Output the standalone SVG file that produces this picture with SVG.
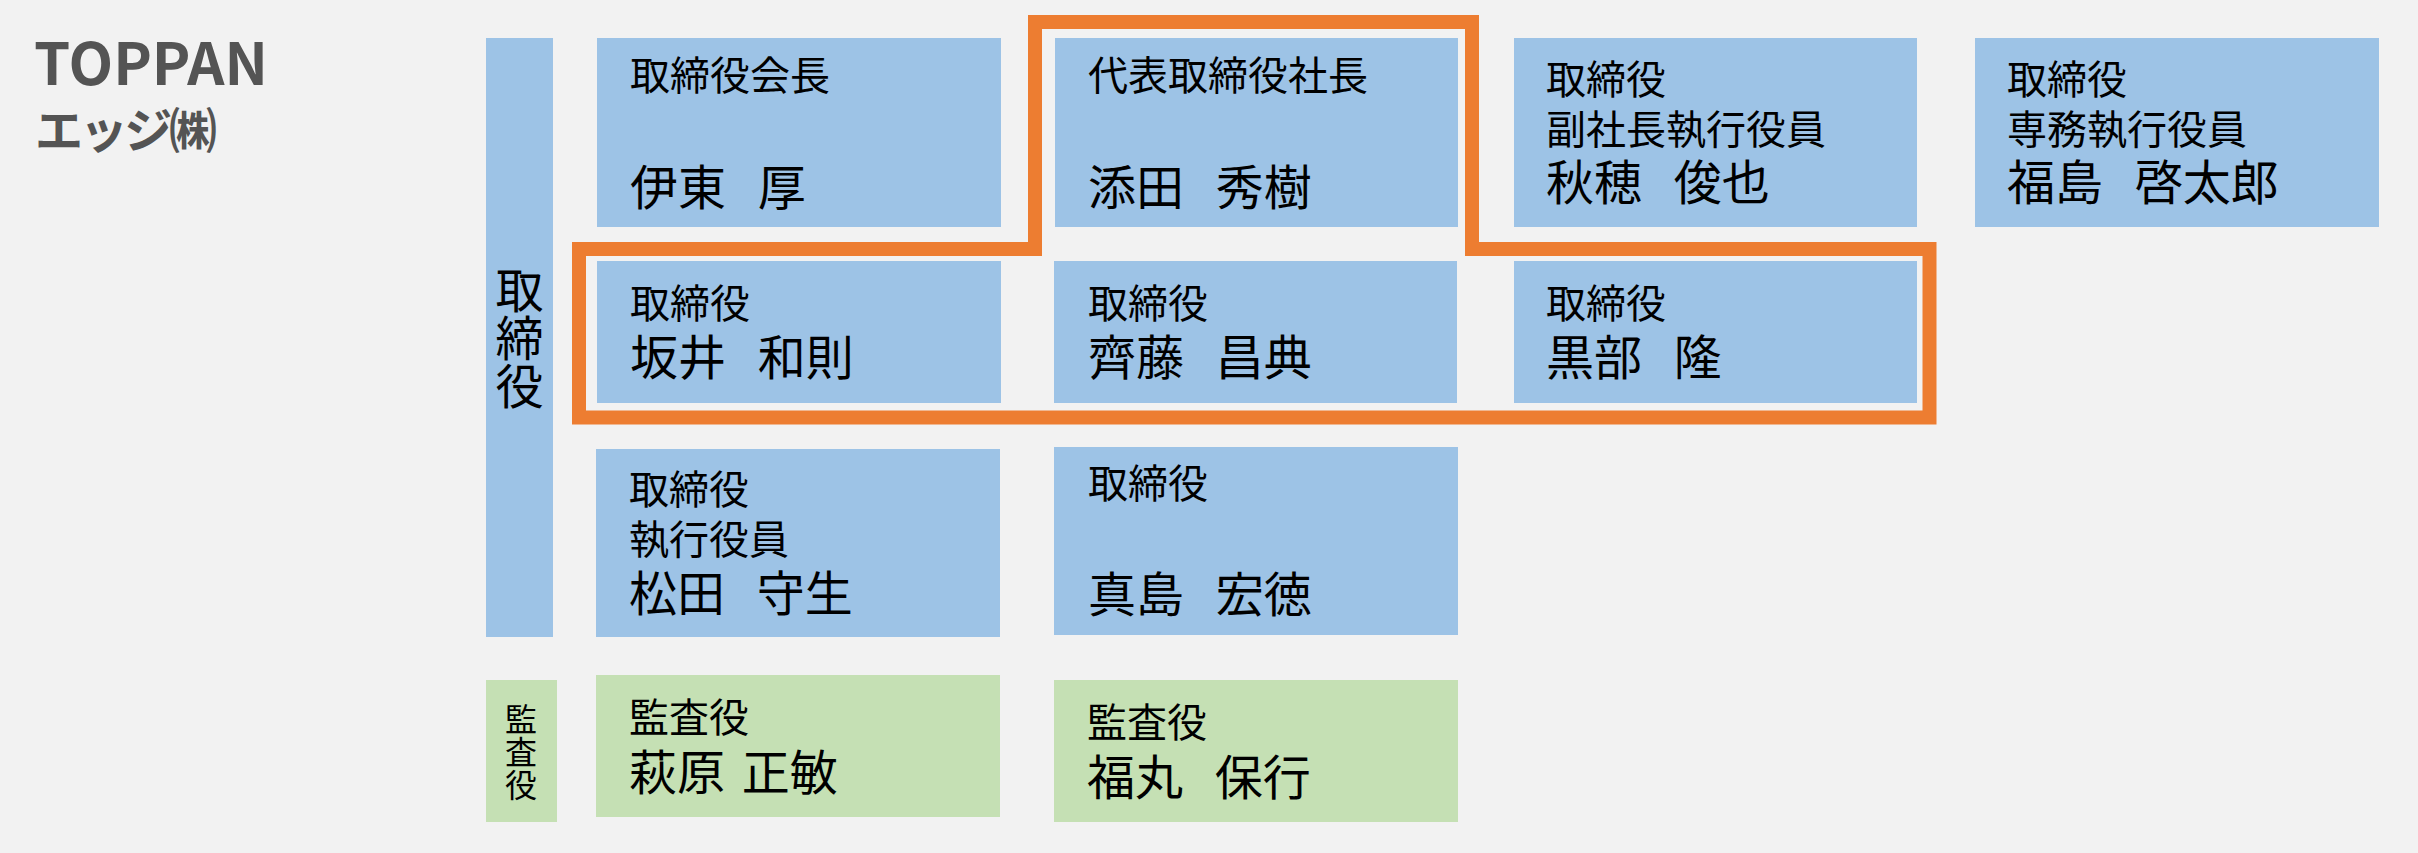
<svg xmlns="http://www.w3.org/2000/svg" width="2418" height="853" viewBox="0 0 2418 853">
<style>
.bg{fill:#F2F2F2}
.blue{fill:#9DC3E6}
.green{fill:#C5E0B4}
.t{font-family:"Noto Sans CJK JP","Noto Sans",sans-serif;fill:#000;font-size:40px}
.n{font-family:"Noto Sans CJK JP","Noto Sans",sans-serif;fill:#000;font-size:48px;word-spacing:21px}
.v{font-family:"Noto Sans CJK JP",sans-serif;fill:#000;writing-mode:vertical-rl}
.hl{fill:none;stroke:#ED7D31;stroke-width:14;stroke-linejoin:miter}
.logo{font-family:"Noto Sans CJK JP","Noto Sans",sans-serif;font-weight:bold;fill:#545454}
</style>
<rect class="bg" x="0" y="0" width="2418" height="853"/>
<g id="company">
<text class="logo" x="34" y="85" font-size="58" textLength="234">TOPPAN</text>
<text class="logo" x="35" y="148" font-size="48" textLength="182">エッジ㈱</text>
</g>
<g id="label-directors">
<rect class="blue" x="486" y="38" width="67" height="599"/>
<text class="v" x="519.5" y="266" font-size="48">取締役</text>
</g>
<g id="label-auditors">
<rect class="green" x="486" y="680" width="71" height="142"/>
<text class="v" x="521" y="703" font-size="32" letter-spacing="1">監査役</text>
</g>
<g id="node-ito">
<rect class="blue" x="597" y="38" width="404" height="189"/>
<text class="t" x="630" y="90">取締役会長</text>
<text class="n" x="630" y="205">伊東 厚</text>
</g>
<g id="node-soeda">
<rect class="blue" x="1055" y="38" width="403" height="189"/>
<text class="t" x="1088" y="90">代表取締役社長</text>
<text class="n" x="1088" y="205">添田 秀樹</text>
</g>
<g id="node-akiho">
<rect class="blue" x="1514" y="38" width="403" height="189"/>
<text class="t" x="1546" y="94">取締役</text>
<text class="t" x="1546" y="144">副社長執行役員</text>
<text class="n" x="1546" y="200">秋穂 俊也</text>
</g>
<g id="node-fukushima">
<rect class="blue" x="1975" y="38" width="404" height="189"/>
<text class="t" x="2007" y="94">取締役</text>
<text class="t" x="2007" y="144">専務執行役員</text>
<text class="n" x="2007" y="200">福島 啓太郎</text>
</g>
<g id="node-sakai">
<rect class="blue" x="597" y="261" width="404" height="142"/>
<text class="t" x="630" y="318">取締役</text>
<text class="n" x="630" y="375">坂井 和則</text>
</g>
<g id="node-saito">
<rect class="blue" x="1054" y="261" width="403" height="142"/>
<text class="t" x="1088" y="318">取締役</text>
<text class="n" x="1088" y="375">齊藤 昌典</text>
</g>
<g id="node-kurobe">
<rect class="blue" x="1514" y="261" width="403" height="142"/>
<text class="t" x="1546" y="318">取締役</text>
<text class="n" x="1546" y="375">黒部 隆</text>
</g>
<g id="node-matsuda">
<rect class="blue" x="596" y="449" width="404" height="188"/>
<text class="t" x="629" y="504">取締役</text>
<text class="t" x="629" y="554">執行役員</text>
<text class="n" x="629" y="611">松田 守生</text>
</g>
<g id="node-majima">
<rect class="blue" x="1054" y="447" width="404" height="188"/>
<text class="t" x="1088" y="498">取締役</text>
<text class="n" x="1088" y="612">真島 宏徳</text>
</g>
<g id="node-hagiwara">
<rect class="green" x="596" y="675" width="404" height="142"/>
<text class="t" x="629" y="732">監査役</text>
<text class="n" x="629" y="790" style="word-spacing:6px">萩原 正敏</text>
</g>
<g id="node-fukumaru">
<rect class="green" x="1054" y="680" width="404" height="142"/>
<text class="t" x="1087" y="737">監査役</text>
<text class="n" x="1087" y="795">福丸 保行</text>
</g>
<g id="connectors">
<path class="hl" d="M579 249 H1035 V22 H1472 V249 H1929.5 V417.5 H579 Z"/>
</g>
</svg>
